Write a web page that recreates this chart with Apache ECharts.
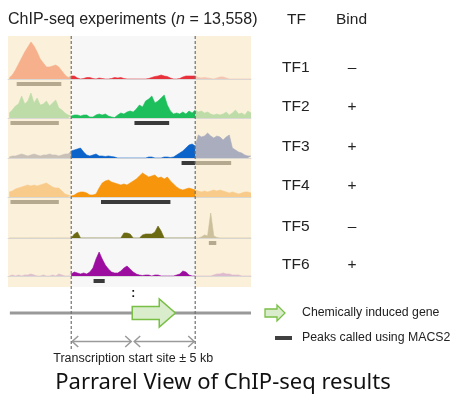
<!DOCTYPE html>
<html><head><meta charset="utf-8">
<script src="https://cdn.jsdelivr.net/npm/echarts@6/dist/echarts.min.js"></script>
<style>html,body{margin:0;padding:0;background:#fff}#c{width:456px;height:401px}</style>
</head><body><div id="c"></div><script>
// ---------- DATA ----------
const trackNames = ['TF1','TF2','TF3','TF4','TF5','TF6'];
const bindCalls  = ['\u2013','+','+','+','\u2013','+'];
// sample positions (kb from TSS), 0.25 kb apart, -10 .. 9.5
const positionsKb = [];
for (let i = 0; i <= 78; i++) positionsKb.push(-10 + 0.25 * i);
// read-count heights per sample
const tf1 = [1,4,9,15,21,27,32,37,33,27,20,16,12,12,13,14,12,8,4,1.5,
  3,3,1,0,0.5,1.5,1.5,0.5,0,1,0.5,0,0,0.5,1.5,1,1.5,0.5,0,0,0,0,0,0,0,0.5,1.5,2.5,3,4,3,2.5,1,0,0,0.5,2,3,3,3,3,
  1.5,1,1.5,1,0.5,0,1,2,2,1,0,0,0,0,0,0,0,0];
const tf2 = [5,8,12,14,22,14,17,25,15,20,13,14,17,12,15,18,10,8,5,3,
  2,3,3,2,3,3,1,1,3,4,3,4,2,1,0.5,3,5,4,6,7,6,9,13,11,17,19,22,15,17,20,23,13,7,4,5,4,6,4,7,5,8,
  6,7,5,6,4,3,4,3,4,6,3,5,8,4,5,3,7,5];
const tf3 = [1,2,2,3,4,3,2,3,4,3,2,3,3,4,3,3,2,3,4,4,
  7,8,9,10,6,3,2,3,4,2,2,1.5,2,1.5,1,0,0,0,0,0,0,0,0,0,0,1,1,0,0,0,1,1,0.5,1,3,5,7,10,13,14,12,
  23,21,22,25,22,20,22,21,18,21,23,10,8,6,5,3,2,2];
const tf4 = [5,6,8,9,10,11,12,11,12,11,12,13,14,12,10,9,9,6,3,2,
  1,2,4,5,5,4,2,2,3,9,14,16,17,15,14,13,12,13,12,14,16,18,21,24,22,20,21,22,19,20,18,20,16,13,10,8,7,8,9,8,7,
  6,5,6,5,6,7,6,7,6,5,4,5,4,3,4,5,5,4];
const tf5 = [0,0,0,0,0,0,0,0,0,0,0,0,0,0,0,0,0,0,0,0,
  0,4,6,0,0,0,0,0,0,0,0,0,0,0,0,0,0,5,5,4,0,0,0,3,4,4,4,6,12,7,0,0,0,0,0,0,0,0,0,0,0,
  0,1,3,2,25,2,0.5,0,0,0,0,0,0,0,0,0,0,0];
const tf6 = [0,1,0,1,0,1,1,2,1,0,0,1,0,0,1,0,2,1,0,0,
  2,4,3,2,3,2,4,8,17,24,17,11,7,4,3,3,5,8,10,7,4,2,1,0.5,1,1,0,1,1,0,0,0,0,0,1,2,5,4,1,0,0,
  0,0,0,0,0,1,2,2,3,2,2,1,1,1,0,0,0,0];
const trackValues = [tf1, tf2, tf3, tf4, tf5, tf6];
// MACS2 peaks: [track, startKb, endKb, insideWindow]
const peaks = [
  [0,-9.4,-5.8,0],
  [1,-9.9,-6.0,0],[1,0.1,2.9,1],
  [2,3.9,5.0,1],[2,5.0,7.9,0],
  [3,-9.9,-6.0,0],[3,-2.6,3.0,1],
  [4,6.1,6.7,0],
  [5,-3.2,-2.3,1]
];
// ---------- STYLE ----------
const colorsOut = ['#f6b08c','#bddca7','#c9c1b8','#f8cb8b','#cbbf9c','#ddbfcd'];
const colorsIn  = ['#e8313b','#1cbf5c','#0c63c9','#f7950c','#6b6a12','#9b0c9f'];
const colorsRight = ['#f4c5b2','#bddca7','#a9adbe','#f8cb8b','#cbbf9c','#ddbacd'];
const baselines = [79,118,158,197,238,276];
const TRACK_H = 38, XMIN = -10.1, XMAX = 9.5;
const FONT = "'Liberation Sans', Arial, sans-serif";

const chart = echarts.init(document.getElementById('c'), null, {renderer:'canvas'});
const grids = [], xAxes = [], yAxes = [], series = [];
baselines.forEach((b, i) => {
  grids.push({left: 8, width: 243, top: b - TRACK_H, height: TRACK_H});
  xAxes.push({type:'value', gridIndex:i, min:XMIN, max:XMAX,
    axisLine:{show:true, lineStyle:{color:'#d2d2d2', width:0.8}},
    axisTick:{show:false}, axisLabel:{show:false}, splitLine:{show:false}});
  yAxes.push({type:'value', gridIndex:i, min:0, max:TRACK_H, show:false});
  const v = trackValues[i];
  const seg = (a, z, col) => ({
    type:'line', xAxisIndex:i, yAxisIndex:i, symbol:'none', silent:true,
    data: positionsKb.slice(a, z + 1).map((x, k) => [x, v[a + k]]),
    lineStyle:{color:col, width:0.6}, itemStyle:{color:col},
    areaStyle:{color:col, opacity:1}, z:3
  });
  series.push(seg(0, 20, colorsOut[i]));
  series.push(seg(20, 60, colorsIn[i]));
  series.push(seg(60, 78, colorsRight[i]));
  series.push({
    type:'custom', xAxisIndex:i, yAxisIndex:i, silent:true, z:4,
    data: peaks.filter(p => p[0] === i).map(p => ({value:[p[1], p[2]],
      itemStyle:{color: p[3] ? '#3a3a3a' : '#b5aa90'}})),
    renderItem: (params, api) => {
      const s = api.coord([api.value(0), 0]);
      const e = api.coord([api.value(1), 0]);
      return {type:'rect', shape:{x:s[0], y:s[1] + 3, width:e[0] - s[0], height:4},
        style:{fill: api.visual('color')}};
    }
  });
});

chart.setOption({animation:false, grid:grids, xAxis:xAxes, yAxis:yAxes, series:series});

// ---------- ANNOTATIONS ----------
const px = kb => chart.convertToPixel({xAxisIndex:0}, kb);
const xL = px(-5), xR = px(5), xT = px(0);
const x0 = px(XMIN), x1 = px(XMAX);
const panelTop = 36, panelBot = 287;
const els = [];
els.push({type:'rect', z:-2, shape:{x:x0, y:panelTop, width:xL - x0, height:panelBot - panelTop}, style:{fill:'#fbf0da'}});
els.push({type:'rect', z:-2, shape:{x:xR, y:panelTop, width:x1 - xR, height:panelBot - panelTop}, style:{fill:'#fbf0da'}});
els.push({type:'rect', z:-2, shape:{x:xL, y:panelTop, width:xR - xL, height:panelBot - panelTop}, style:{fill:'#f7f7f8'}});
[xL, xR].forEach(x => els.push({type:'line', z:50, shape:{x1:x, y1:panelTop, x2:x, y2:350},
  style:{stroke:'#707070', lineWidth:1.2, lineDash:[3,2]}}));
// gene line + arrow
const yG = 313;
els.push({type:'line', z:10, shape:{x1:px(-9.95), y1:yG, x2:x1, y2:yG}, style:{stroke:'#999', lineWidth:3}});
const gs = xT - 1, gh = px(2.1), ge = px(3.4);
els.push({type:'polygon', z:11, shape:{points:[[gs,yG-6.5],[gh,yG-6.5],[gh,yG-14],[ge,yG],[gh,yG+14],[gh,yG+6.5],[gs,yG+6.5]]},
  style:{fill:'#d9edcd', stroke:'#79bf45', lineWidth:1.5}});
els.push({type:'text', z:11, x:xT, y:294, style:{text:':', font:'bold 12px ' + FONT, fill:'#111', align:'center', verticalAlign:'middle'}});
// ±5kb arrows
const yA = 341.5;
const dbl = (a, b) => {
  els.push({type:'line', z:10, shape:{x1:a, y1:yA, x2:b, y2:yA}, style:{stroke:'#9a9a9a', lineWidth:1.5}});
  els.push({type:'polyline', z:10, shape:{points:[[a+6,yA-5.5],[a,yA],[a+6,yA+5.5]]}, style:{stroke:'#9a9a9a', lineWidth:1.5, fill:null}});
  els.push({type:'polyline', z:10, shape:{points:[[b-6,yA-5.5],[b,yA],[b-6,yA+5.5]]}, style:{stroke:'#9a9a9a', lineWidth:1.5, fill:null}});
};
dbl(xL + 1, xT - 2);
dbl(xT + 1, xR - 1);
els.push({type:'text', x:(xL + xR) / 2, y:359, style:{text:'Transcription start site \u00b1 5 kb', font:'12.5px ' + FONT, fill:'#222', align:'center', verticalAlign:'middle'}});
// legend
els.push({type:'polygon', z:11, shape:{points:[[265,yG-4],[277,yG-4],[277,yG-8],[285,yG],[277,yG+8],[277,yG+4],[265,yG+4]]},
  style:{fill:'#d9edcd', stroke:'#79bf45', lineWidth:1.3}});
els.push({type:'text', x:302, y:yG, style:{text:'Chemically induced gene', font:'12.3px ' + FONT, fill:'#222', verticalAlign:'middle'}});
els.push({type:'rect', shape:{x:275, y:336, width:17, height:4}, style:{fill:'#404040'}});
els.push({type:'text', x:302, y:338, style:{text:'Peaks called using MACS2', font:'12.3px ' + FONT, fill:'#222', verticalAlign:'middle'}});
// headers
els.push({type:'text', x:8, y:20, style:{text:'{a|ChIP-seq experiments (}{i|n}{a| = 13,558)}', verticalAlign:'middle',
  rich:{a:{font:'16px ' + FONT, fill:'#222'}, i:{font:'italic 16px ' + FONT, fill:'#222'}}}});
els.push({type:'text', x:287, y:20, style:{text:'TF', font:'15.5px ' + FONT, fill:'#222', verticalAlign:'middle'}});
els.push({type:'text', x:336, y:20, style:{text:'Bind', font:'15.5px ' + FONT, fill:'#222', verticalAlign:'middle'}});
trackNames.forEach((n, i) => {
  els.push({type:'text', x:282, y:baselines[i] - 11, style:{text:n, font:'15.5px ' + FONT, fill:'#222', verticalAlign:'middle'}});
  els.push({type:'text', x:352, y:baselines[i] - 11, style:{text:bindCalls[i], font:'15.5px ' + FONT, fill:'#222', align:'center', verticalAlign:'middle'}});
});
els.push({type:'text', x:223, y:383, style:{text:'Parrarel View of ChIP-seq results', font:"22px 'Noto Sans', sans-serif", fill:'#111', align:'center', verticalAlign:'middle'}});
chart.setOption({graphic:{elements:els}});
</script></body></html>
